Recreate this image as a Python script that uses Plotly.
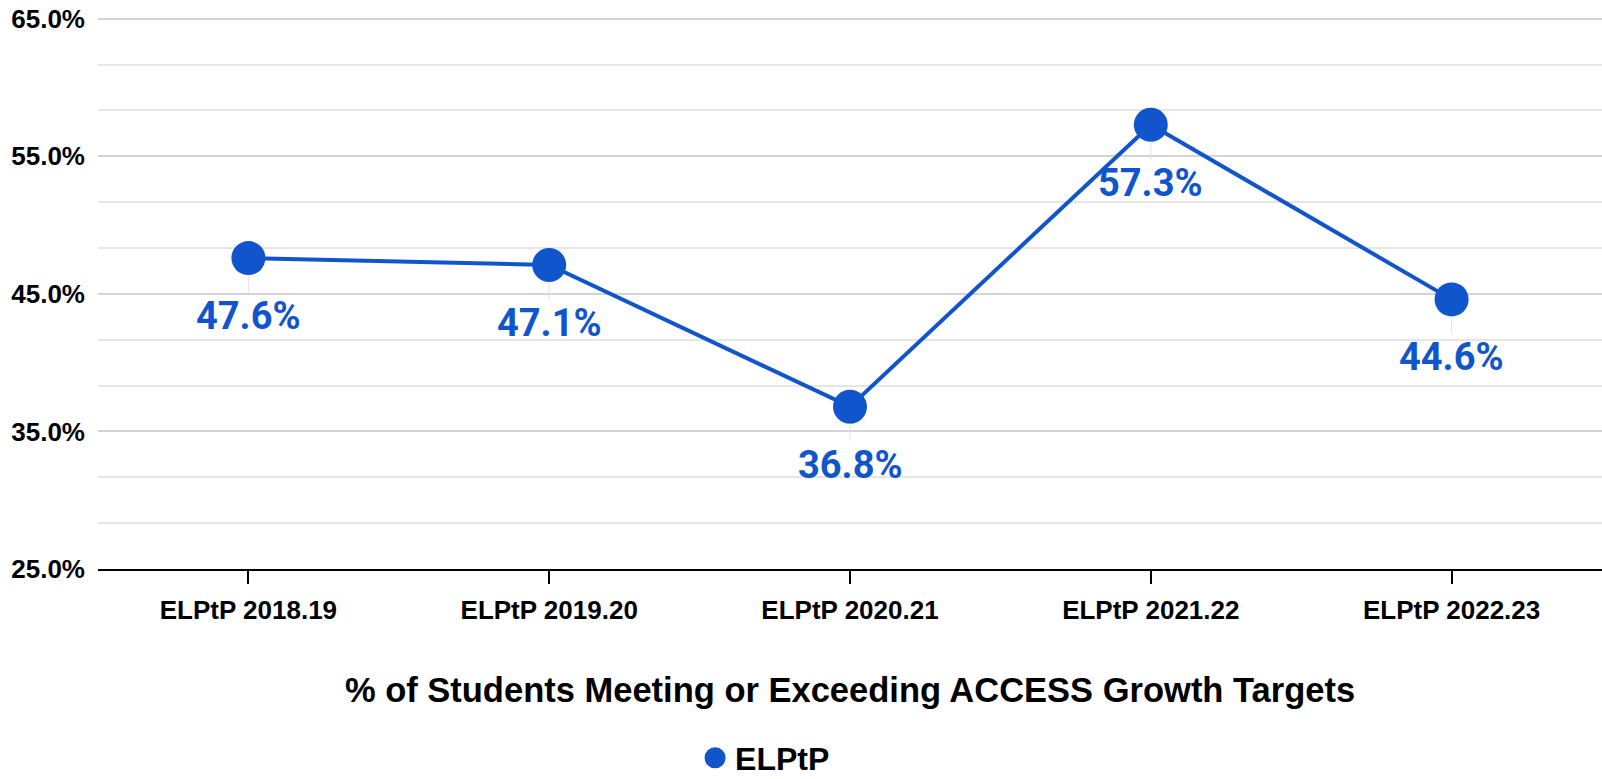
import plotly.graph_objects as go

categories = ["ELPtP 2018.19", "ELPtP 2019.20", "ELPtP 2020.21", "ELPtP 2021.22", "ELPtP 2022.23"]
values = [47.6, 47.1, 36.8, 57.3, 44.6]
labels = ["47.6%", "47.1%", "36.8%", "57.3%", "44.6%"]
series_name = "ELPtP"
x_title = "% of Students Meeting or Exceeding ACCESS Growth Targets"
y_ticks = [25, 35, 45, 55, 65]
y_tick_labels = ["25.0%", "35.0%", "45.0%", "55.0%", "65.0%"]

BLUE = "#1155cc"
idx = list(range(len(categories)))

fig = go.Figure()
fig.add_trace(go.Scatter(
    x=idx, y=values, mode="lines+markers", showlegend=False,
    line=dict(color=BLUE, width=4),
    marker=dict(color=BLUE, size=34),
    cliponaxis=False,
))
fig.add_trace(go.Scatter(
    x=[None], y=[None], mode="markers", name=series_name,
    marker=dict(color=BLUE, size=16, line=dict(color=BLUE, width=5)),
))

for i, v, t in zip(idx, values, labels):
    fig.add_annotation(
        x=i, y=v, text=t, showarrow=True, arrowhead=0, ax=0, ay=58,
        arrowcolor="#e3e3e3", arrowwidth=1, standoff=17,
        font=dict(family="Roboto", size=38, color=BLUE, weight="bold"),
    )

axis_font = dict(family="Liberation Sans", size=26, color="#000000", weight="bold")

fig.update_layout(
    width=1602, height=779,
    margin=dict(l=98, r=0, t=16, b=210),
    paper_bgcolor="white", plot_bgcolor="white",
    xaxis=dict(
        range=[-0.5, len(categories) - 0.5], automargin=False,
        tickmode="array", tickvals=idx, ticktext=categories,
        tickfont=axis_font, ticks="outside", ticklen=13, tickwidth=2, tickcolor="#000",
        showline=True, linecolor="#000", linewidth=2,
        showgrid=False, zeroline=False,
        ticklabelstandoff=4,
        title=dict(text=x_title, standoff=54,
                   font=dict(family="Liberation Sans", size=34.5, color="#000", weight="bold")),
    ),
    xaxis2=dict(
        overlaying="x", anchor="y", side="bottom", automargin=False,
        range=[-0.5, len(categories) - 0.5],
        tickmode="array", tickvals=idx, showticklabels=False,
        ticks="inside", ticklen=12, tickwidth=2, tickcolor="#000",
        showgrid=False, zeroline=False, showline=False,
    ),
    yaxis=dict(
        range=[25, 65.2], automargin=False,
        tickmode="array", tickvals=y_ticks, ticktext=y_tick_labels,
        tickfont=axis_font, ticklabelstandoff=12,
        showgrid=True, gridcolor="#d4d4d4", gridwidth=2,
        zeroline=False, showline=False,
        minor=dict(dtick=10 / 3, tick0=25, showgrid=True, gridcolor="#e6e6e6", gridwidth=2),
    ),
    legend=dict(
        orientation="h", x=0.397, xanchor="left",
        yref="container", y=0.027, yanchor="middle",
        font=dict(family="Liberation Sans", size=32, color="#000", weight="bold"),
        itemsizing="trace",
    ),
)

fig.write_html("out.html", config={"displayModeBar": False},
               post_script="document.body.style.margin='0';")
